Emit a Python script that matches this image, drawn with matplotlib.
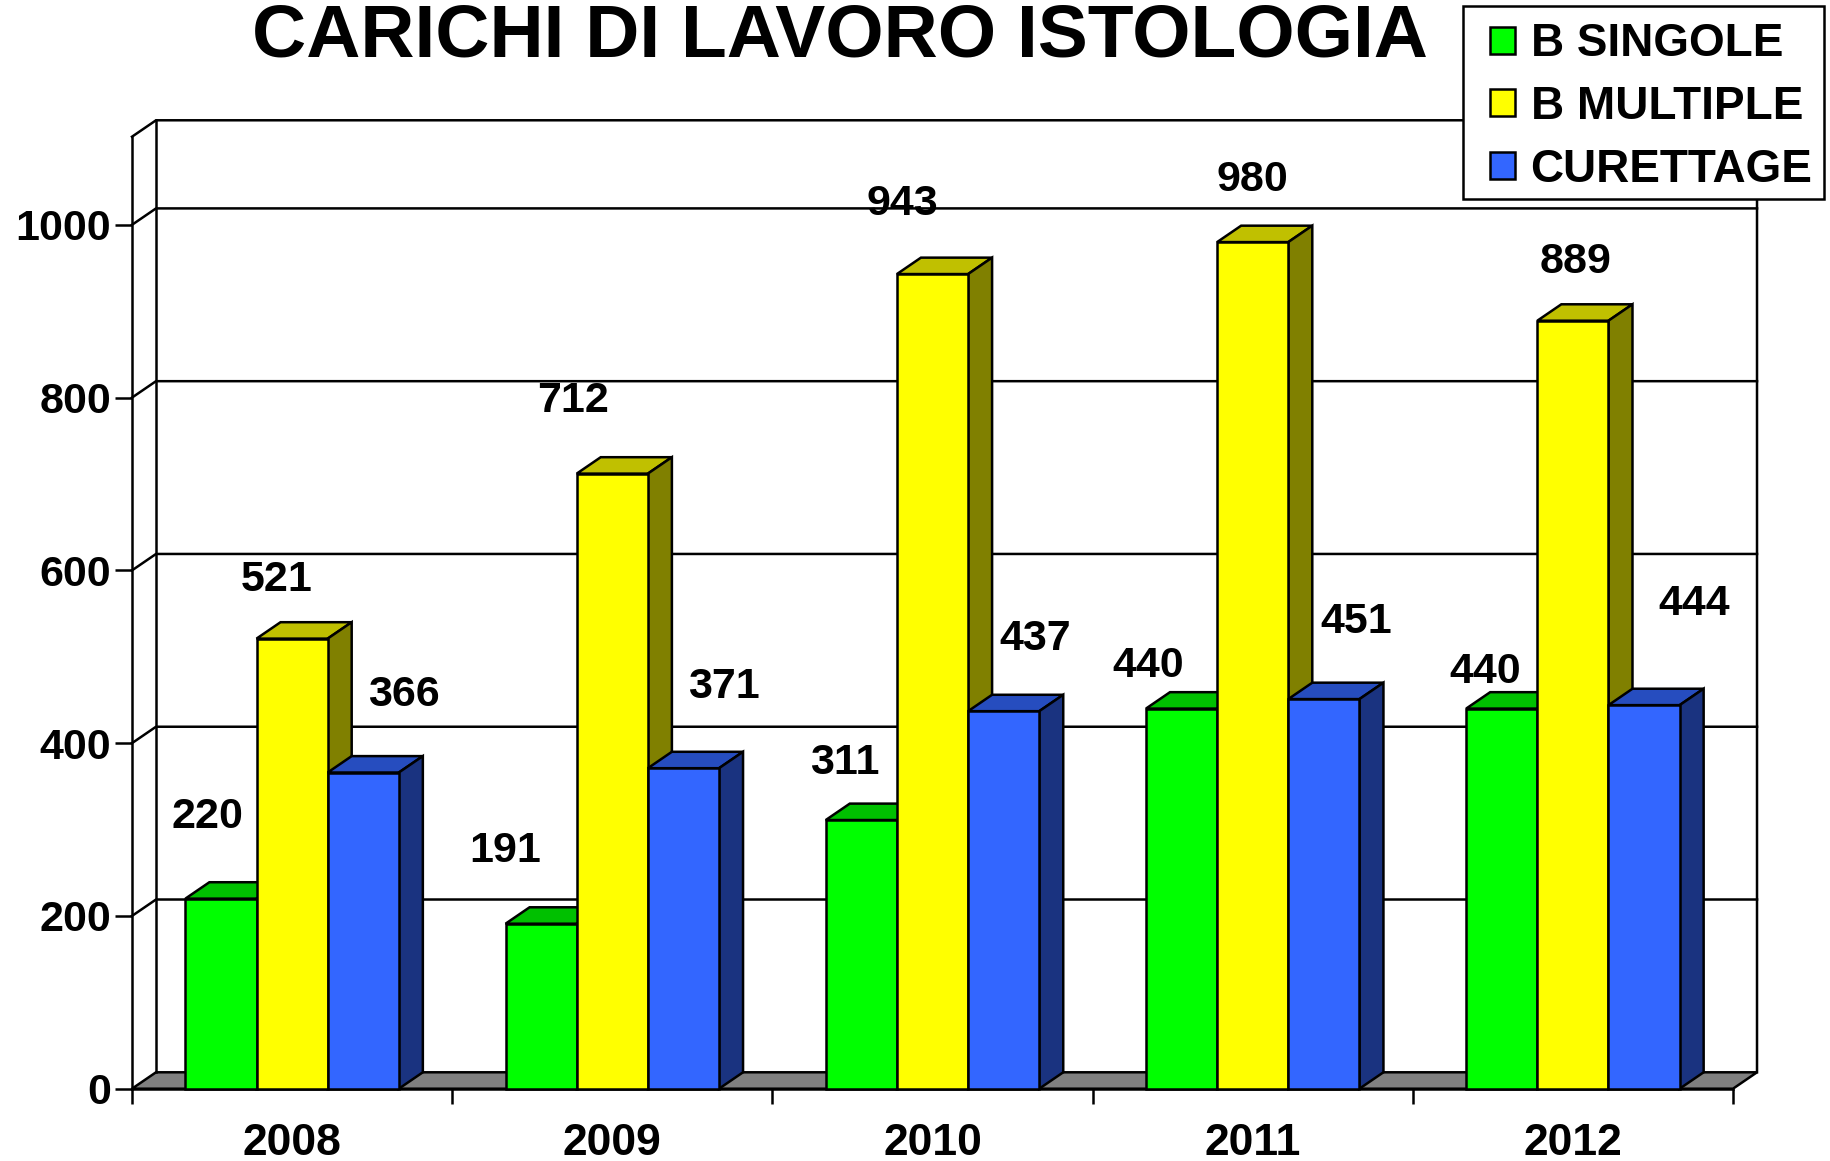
import matplotlib
matplotlib.use('Agg')
import matplotlib.pyplot as plt
from matplotlib.patches import Patch, Rectangle

plt.rcParams['font.family'] = ['Liberation Sans', 'DejaVu Sans']
plt.rcParams['font.weight'] = 'bold'

years = ['2008', '2009', '2010', '2011', '2012']
series_names = ['B SINGOLE', 'B MULTIPLE', 'CURETTAGE']
b_singole = [220, 191, 311, 440, 440]
b_multiple = [521, 712, 943, 980, 889]
curettage = [366, 371, 437, 451, 444]
y_ticks = [0, 200, 400, 600, 800, 1000]

front_colors = ['#00FF00', '#FFFF00', '#3366FF']
top_colors = ['#00C000', '#C0C000', '#264DBF']
side_colors = ['#008000', '#808000', '#1A3380']

# label offsets from the top centre of each bar, in points (labels were hand placed)
label_dx = [[-10, -26, -12, -24, -12], [-11, -28, -22, 0, 2], [29, 29, 23, 23, 36]]
label_dy = [[58.5, 52, 41, 30.5, 26], [42, 52.5, 50.5, 45, 42.5], [56, 58.5, 52, 55.5, 72.5]]

ymax = 1102
depth_x = 0.075   # in categories
depth_y = 19      # in value units
bar_width = 1 / 4.5
lw = 1.8

fig = plt.figure(figsize=(18.3, 11.61), dpi=100)
ax = fig.add_axes([132 / 1830, (1161 - 1088.7) / 1161, 1601 / 1830, 952 / 1161])
ax.set_xlim(0, len(years))
ax.set_ylim(0, ymax)

# walls and floor
n = len(years)
ax.fill([0, depth_x, n + depth_x, n], [0, depth_y, depth_y, 0], facecolor='#808080',
        edgecolor='black', linewidth=lw, clip_on=False, zorder=1)
ax.plot([0, depth_x, n + depth_x, n + depth_x], [ymax, ymax + depth_y, ymax + depth_y, depth_y],
        color='black', linewidth=lw, clip_on=False, zorder=1)
ax.plot([depth_x, depth_x], [depth_y, ymax + depth_y], color='black', linewidth=lw, clip_on=False, zorder=1)
for v in y_ticks[1:]:
    ax.plot([0, depth_x, n + depth_x], [v, v + depth_y, v + depth_y], color='black',
            linewidth=lw, clip_on=False, zorder=1)

# bars, left to right so the nearer faces cover the others
z = 2
for i in range(n):
    for j, values in enumerate([b_singole, b_multiple, curettage]):
        v = values[i]
        left = i + 0.5 + (j - 1.5) * bar_width
        right = left + bar_width
        ax.fill([left, left + depth_x, right + depth_x, right], [v, v + depth_y, v + depth_y, v],
                facecolor=top_colors[j], edgecolor='black', linewidth=lw, clip_on=False, zorder=z)
        ax.fill([right, right + depth_x, right + depth_x, right], [0, depth_y, v + depth_y, v],
                facecolor=side_colors[j], edgecolor='black', linewidth=lw, clip_on=False, zorder=z)
        ax.bar(left, v, bar_width, align='edge', color=front_colors[j], edgecolor='black',
               linewidth=lw, clip_on=False, zorder=z)
        ax.annotate(str(v), (left + bar_width / 2, v), xytext=(label_dx[j][i], label_dy[j][i]),
                    textcoords='offset points', ha='center', va='center', fontsize=31,
                    fontweight='bold', zorder=100)
        z += 1

for side in ['top', 'right']:
    ax.spines[side].set_visible(False)
for side in ['left', 'bottom']:
    ax.spines[side].set_linewidth(lw)
    ax.spines[side].set_zorder(1.5)

ax.set_yticks(y_ticks)
ax.tick_params(axis='y', length=12, width=lw, pad=3, labelsize=31)
ax.set_xticks(range(n + 1))
ax.set_xticklabels([])
ax.set_xticks([i + 0.5 for i in range(n)], labels=years, minor=True)
ax.tick_params(axis='x', which='major', length=11, width=lw)
ax.tick_params(axis='x', which='minor', length=0, pad=25, labelsize=32)

fig.text(840 / 1830, 1 - 37 / 1161, 'CARICHI DI LAVORO ISTOLOGIA', ha='center', va='center',
         fontsize=54, fontweight='bold')

# legend box is drawn on its own, the legend frame can't have uneven padding
fig.add_artist(Rectangle((1462.7 / 1830, 1 - 199 / 1161), 361.3 / 1830, 193 / 1161, transform=fig.transFigure,
                         facecolor='white', edgecolor='black', linewidth=lw, zorder=150))
handles = [Patch(facecolor=c, edgecolor='black', linewidth=lw) for c in front_colors]
leg = fig.legend(handles, series_names, loc='upper left', bbox_to_anchor=(1471 / 1830, 1 - 3 / 1161),
                 bbox_transform=fig.transFigure, prop={'size': 33, 'weight': 'bold'}, frameon=False,
                 handlelength=0.53, handleheight=0.53, handletextpad=0.35, labelspacing=0.41,
                 borderpad=0.42, borderaxespad=0)
leg.set_zorder(200)

fig.savefig('out.png', dpi=100)
